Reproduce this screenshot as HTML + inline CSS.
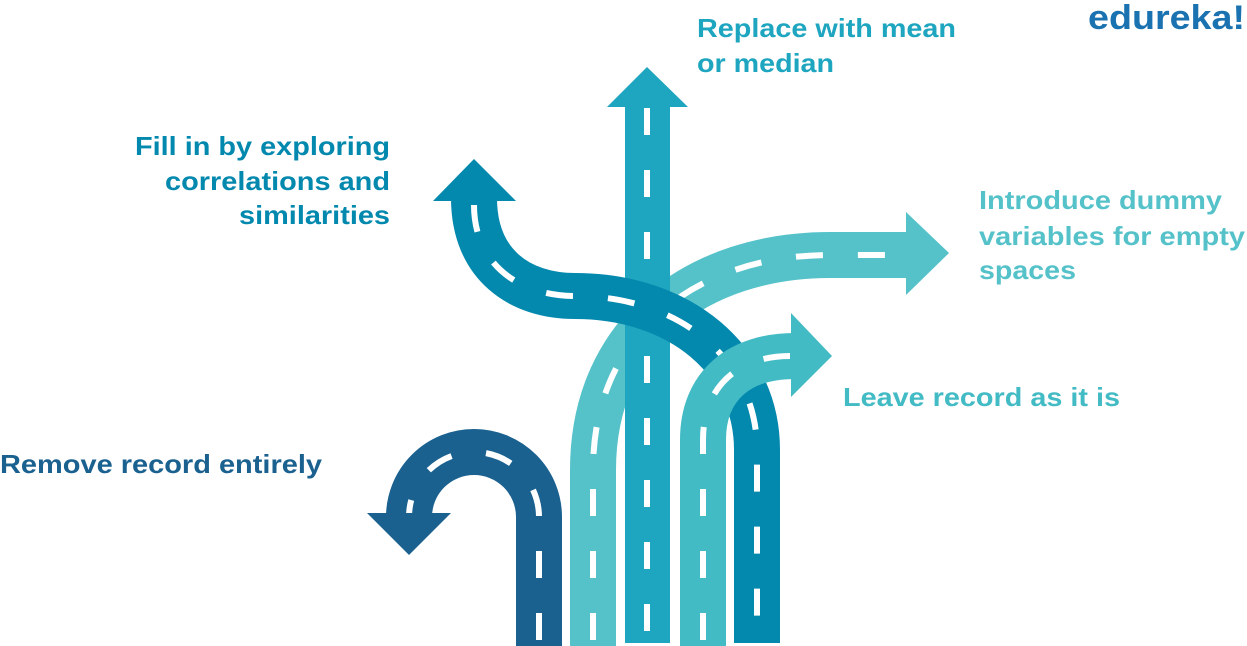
<!DOCTYPE html>
<html><head><meta charset="utf-8"><style>html,body{margin:0;padding:0;background:#fff;}svg{display:block}</style></head>
<body>
<svg width="1247" height="646" viewBox="0 0 1247 646" xmlns="http://www.w3.org/2000/svg" font-family="Liberation Sans, Arial, sans-serif" font-weight="bold">
<!-- Introduce dummy road -->
<path d="M593,646 L593,470 C593,330 700,255 830,255 L910,255" fill="none" stroke="#55c2ca" stroke-width="46"/>
<path d="M593,640 L593,470 C593,330 700,255 830,255 L905,255" fill="none" stroke="#fff" stroke-width="6" stroke-dasharray="27,35"/>
<polygon points="906,212 949,253 906,295" fill="#55c2ca"/>
<!-- Middle vertical -->
<rect x="625" y="105" width="45" height="538" fill="#1ea5bf"/>
<polygon points="607,107 647,67 688,107" fill="#1ea5bf"/>
<line x1="647" y1="108" x2="647" y2="640" stroke="#fff" stroke-width="6" stroke-dasharray="27,35"/>
<!-- Fill in S road -->
<path d="M474,198 C474,265 520,296 575,296 C680,296 757,360 757,450 L757,643" fill="none" stroke="#0388ae" stroke-width="46"/>
<path d="M474,205 C474,265 520,296 575,296 C680,296 757,360 757,450 L757,635" fill="none" stroke="#fff" stroke-width="6" stroke-dasharray="27,35"/>
<polygon points="433,201 474,159 516,201" fill="#0388ae"/>
<!-- Leave record road -->
<path d="M703,646 L703,440 C703,385 740,356 795,356" fill="none" stroke="#43bbc5" stroke-width="46"/>
<path d="M703,640 L703,440 C703,385 740,356 790,356" fill="none" stroke="#fff" stroke-width="6" stroke-dasharray="27,35"/>
<polygon points="791,313 832,356 791,397" fill="#43bbc5"/>
<!-- Remove road -->
<path d="M539,646 L539,517 A65,65 0 0 0 409,517 L409,516" fill="none" stroke="#1a6190" stroke-width="46"/>
<path d="M539,640 L539,517 A65,65 0 0 0 409,517" fill="none" stroke="#fff" stroke-width="6" stroke-dasharray="27,35"/>
<polygon points="367,513 451,513 409,555" fill="#1a6190"/>
<!-- Labels -->
<g font-size="26">
<text x="697" y="37" fill="#1ea5bf" textLength="259" lengthAdjust="spacingAndGlyphs">Replace with mean</text>
<text x="697" y="72" fill="#1ea5bf" textLength="137" lengthAdjust="spacingAndGlyphs">or median</text>
<text x="135" y="155" fill="#0388ae" textLength="255" lengthAdjust="spacingAndGlyphs">Fill in by exploring</text>
<text x="165" y="190" fill="#0388ae" textLength="225" lengthAdjust="spacingAndGlyphs">correlations and</text>
<text x="239" y="224" fill="#0388ae" textLength="151" lengthAdjust="spacingAndGlyphs">similarities</text>
<text x="979" y="209" fill="#55c2ca" textLength="243" lengthAdjust="spacingAndGlyphs">Introduce dummy</text>
<text x="979" y="245" fill="#55c2ca" textLength="266" lengthAdjust="spacingAndGlyphs">variables for empty</text>
<text x="979" y="279" fill="#55c2ca" textLength="97" lengthAdjust="spacingAndGlyphs">spaces</text>
<text x="843" y="406" fill="#43bbc5" textLength="277" lengthAdjust="spacingAndGlyphs">Leave record as it is</text>
<text x="0" y="473" fill="#1a6190" textLength="322" lengthAdjust="spacingAndGlyphs">Remove record entirely</text>
</g>
<text x="1088" y="29" font-size="34" fill="#1b72b0" textLength="157" lengthAdjust="spacingAndGlyphs">edureka!</text>
</svg>
</body></html>
